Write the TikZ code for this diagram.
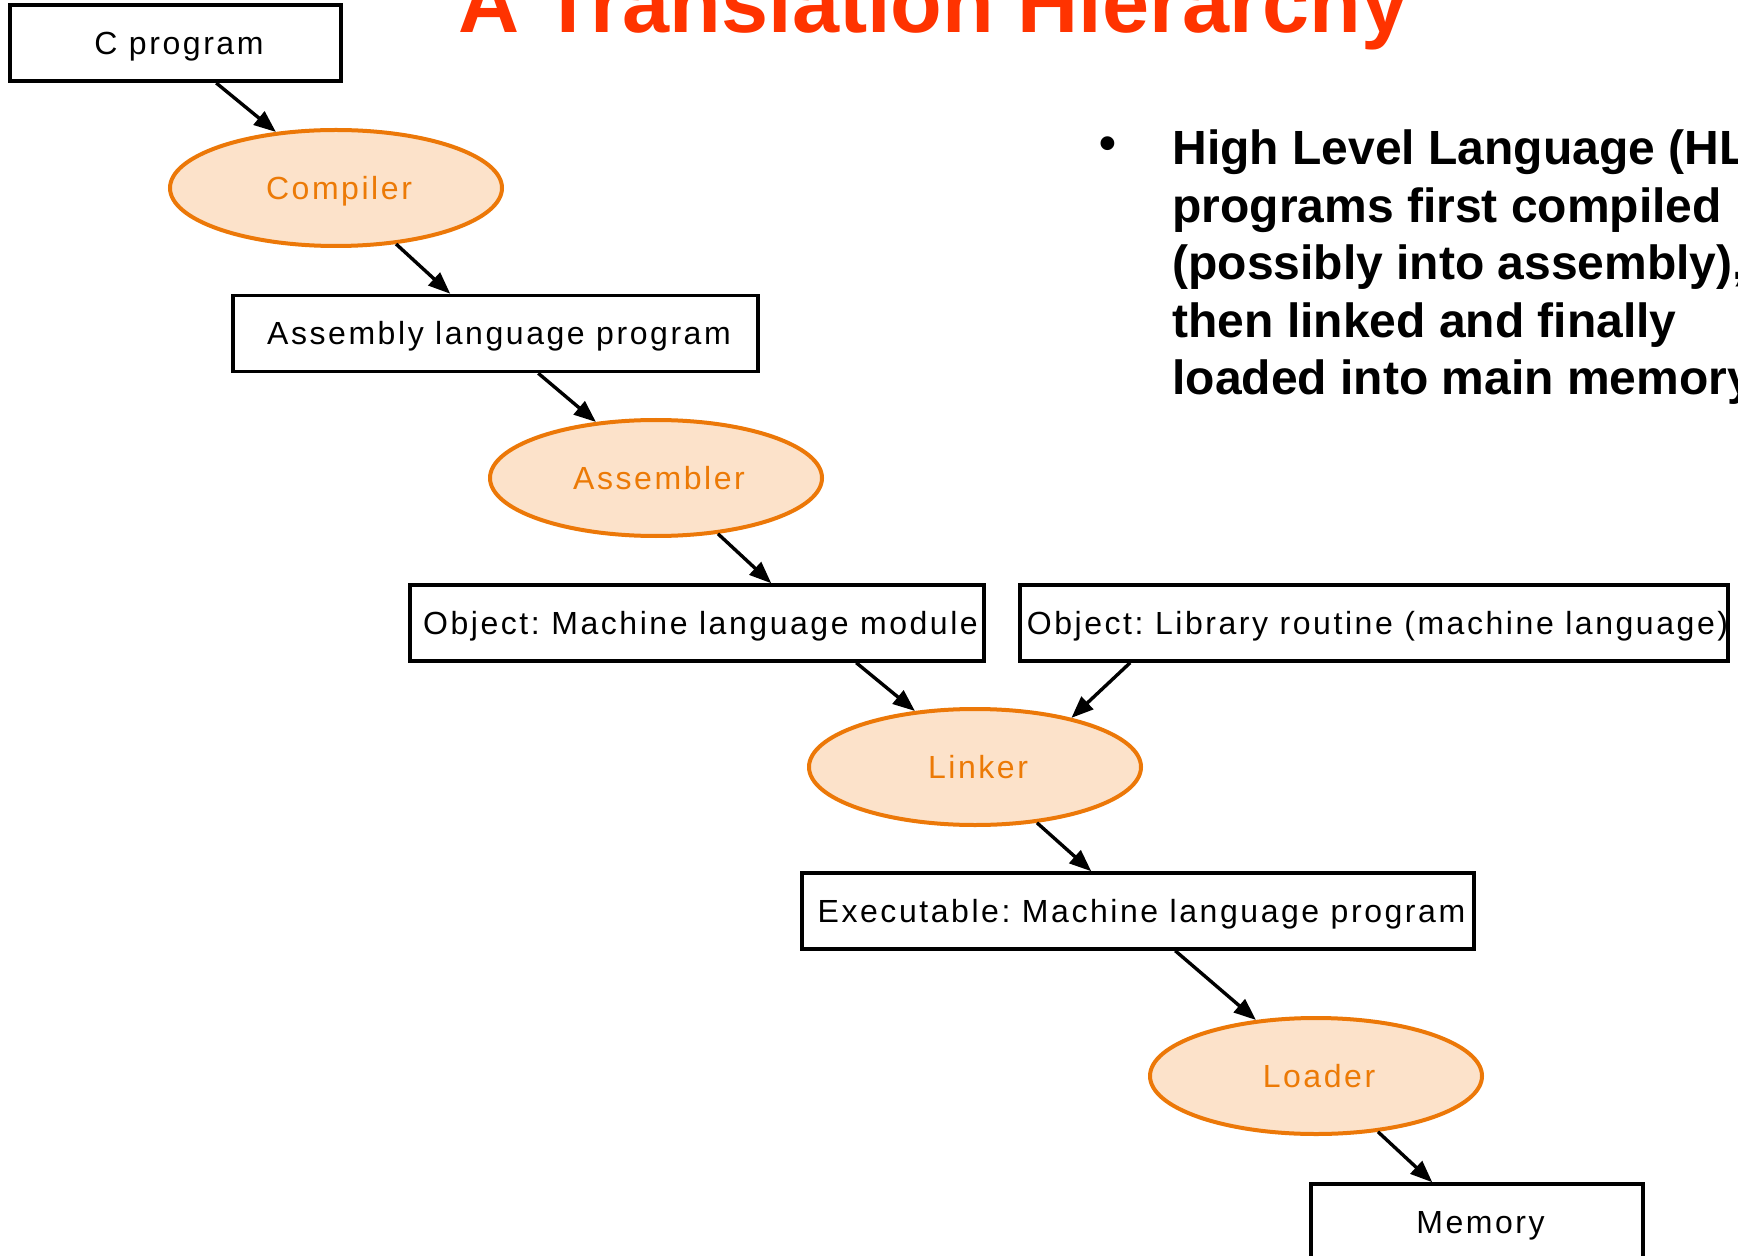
\documentclass[tikz,border=0pt]{standalone}
\usepackage{fontspec}
\setmainfont{Liberation Sans}
\newfontfamily\boxfont[LetterSpace=8]{Liberation Sans}
\usetikzlibrary{shapes.geometric,arrows.meta}
\definecolor{titlered}{RGB}{255,51,0}
\definecolor{ellstroke}{RGB}{236,120,8}
\definecolor{ellfill}{RGB}{252,226,202}
\definecolor{elltext}{RGB}{236,122,6}
\tikzset{
  progbox/.style={draw=black, line width=1.75pt, fill=white, minimum height=38pt, inner sep=0pt,
    text height=11.5pt, text depth=0pt, execute at begin node={\hspace*{3.5pt}},
    font=\boxfont\frenchspacing\fontsize{16pt}{19pt}\selectfont},
  tool/.style={ellipse, draw=ellstroke, fill=ellfill, line width=2pt, minimum width=166pt,
    minimum height=58pt, inner sep=0pt, text=elltext, text height=11.5pt, text depth=0pt,
    execute at begin node={\hspace*{3pt}},
    font=\boxfont\frenchspacing\fontsize{16pt}{19pt}\selectfont},
  conn/.style={line width=1.7pt, -{Triangle[length=11pt,width=8.5pt]}},
  bulletline/.style={anchor=base west, inner sep=0pt, font=\bfseries\fontsize{24pt}{28.7pt}\selectfont}
}
\begin{document}
\begin{tikzpicture}[x=0.5pt,y=-0.5pt]
\useasboundingbox (0,0) rectangle (1738,1256);
\clip (0,0) rectangle (1738,1256);
\fill[white] (0,0) rectangle (1738,1256);

\node[anchor=base west, inner sep=0pt, text=titlered, font=\bfseries\fontsize{42.3pt}{50pt}\selectfont] (title) at (458,33) {A Translation Hierarchy};

\node[inner sep=0pt, font=\bfseries\fontsize{24pt}{28.7pt}\selectfont] (bullet) at (1108,148) {•};
\node[bulletline] (l1) at (1172,165) {High Level Language (HLL)};
\node[bulletline] (l2) at (1172,222.4) {programs first compiled};
\node[bulletline] (l3) at (1172,279.8) {(possibly into assembly),};
\node[bulletline] (l4) at (1172,337.2) {then linked and finally};
\node[bulletline] (l5) at (1172,394.6) {loaded into main memory.};

\node[progbox, minimum width=165.5pt] (cprog) at (175.5,43.25) {C program};
\node[tool] (compiler) at (336,188) {Compiler};
\node[progbox, minimum width=262.5pt] (asmprog) at (495.5,333.5) {Assembly language program};
\node[tool] (assembler) at (656,478) {Assembler};
\node[progbox, minimum width=287pt] (objmod) at (697,623) {Object: Machine language module};
\node[progbox, minimum width=353pt] (lib) at (1374,623) {Object: Library routine (machine language)};
\node[tool] (linker) at (975,767) {Linker};
\node[progbox, minimum width=336pt] (exec) at (1138,911) {Executable: Machine language program};
\node[tool] (loader) at (1316,1076) {Loader};
\node[progbox, minimum width=166pt] (memory) at (1477,1222) {Memory};

\draw[conn] ([xshift=104pt]cprog.south west) -- (compiler.137);
\draw[conn] (compiler.-43) -- ([xshift=109.5pt]asmprog.north west);
\draw[conn] ([xshift=153.5pt]asmprog.south west) -- (assembler.137);
\draw[conn] (assembler.-42) -- ([xshift=181.5pt]objmod.north west);
\draw[conn] ([xshift=224pt]objmod.south west) -- (linker.137);
\draw[conn] ([xshift=56pt]lib.south west) -- (linker.27);
\draw[conn] (linker.-42.5) -- ([xshift=145.5pt]exec.north west);
\draw[conn] ([xshift=187.5pt]exec.south west) -- (loader.137);
\draw[conn] (loader.-42.5) -- ([xshift=61.5pt]memory.north west);
\end{tikzpicture}
\end{document}
